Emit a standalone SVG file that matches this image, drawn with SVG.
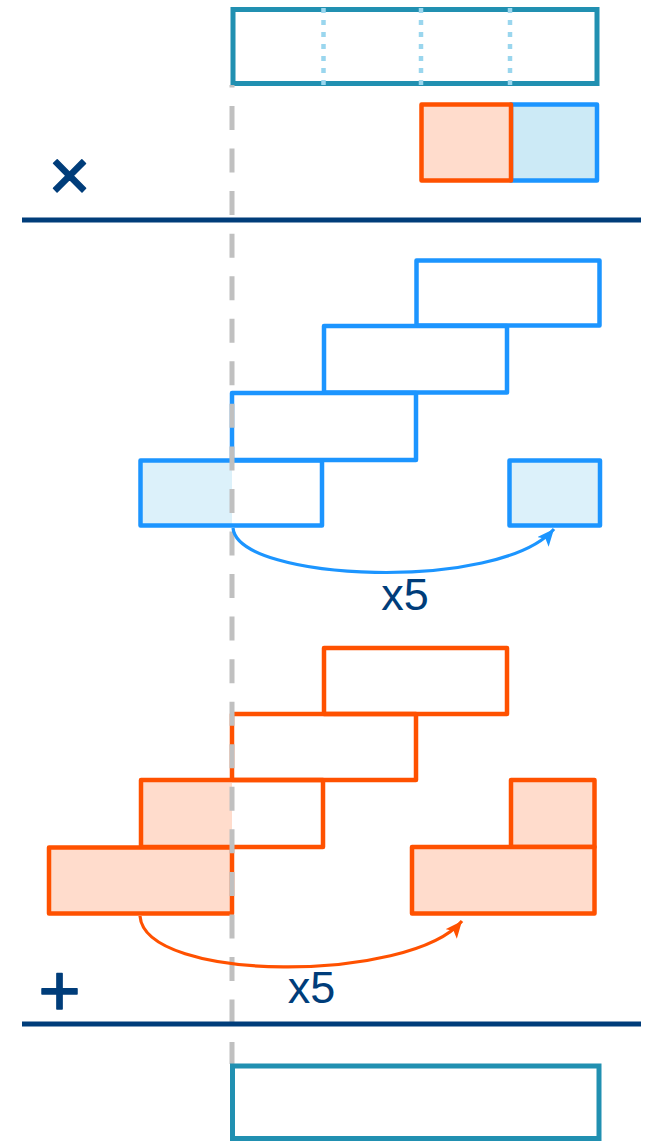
<svg xmlns="http://www.w3.org/2000/svg" width="651" height="1141" viewBox="0 0 651 1141">
<style>
.teal{fill:#ffffff;stroke:#2190B1;stroke-width:5}
.dot{stroke:#9AD6EE;stroke-width:4.5;stroke-dasharray:5 7;fill:none}
.b{fill:none;stroke:#1C95FF;stroke-width:4.5;stroke-linejoin:round}
.bf{fill:#DCF1FA;stroke:none}
.o{fill:none;stroke:#FF5100;stroke-width:4.5;stroke-linejoin:round}
.of{fill:#FFDCCC;stroke:none}
.sep{stroke:#003D7A;stroke-width:5}
.sym{font-family:"Liberation Sans",Arial,sans-serif;fill:#003D7A}
.op{stroke:#003D7A;stroke-width:1.5;stroke-linejoin:round}
.guide{stroke:#C0C0C0;stroke-width:5;stroke-dasharray:24 18.55;stroke-dashoffset:21.55;fill:none}
.arr{fill:none;stroke-width:3.2}
</style>
<defs>
<marker id="ah-b" markerUnits="userSpaceOnUse" markerWidth="19" markerHeight="15" refX="17" refY="7.5" orient="auto">
<path d="M0,0 L17,7.5 L0,15 L4,7.5 Z" fill="#1C95FF"/>
</marker>
<marker id="ah-o" markerUnits="userSpaceOnUse" markerWidth="19" markerHeight="15" refX="17" refY="7.5" orient="auto">
<path d="M0,0 L17,7.5 L0,15 L4,7.5 Z" fill="#FF5100"/>
</marker>
</defs>

<g id="top-vector">
<rect class="teal" x="233" y="9.5" width="364" height="74"/>
<line class="dot" x1="323.5" y1="8" x2="323.5" y2="85"/>
<line class="dot" x1="421" y1="8" x2="421" y2="85"/>
<line class="dot" x1="510" y1="8" x2="510" y2="85"/>
</g>

<g id="multiplier">
<rect x="511" y="104.5" width="86" height="76" fill="#CCEAF6" stroke="#1C95FF" stroke-width="4.5" stroke-linejoin="round"/>
<rect x="421.5" y="104.5" width="89.5" height="76" fill="#FFDCCC" stroke="#FF5100" stroke-width="4.5" stroke-linejoin="round"/>
</g>

<g id="mul-sign">
<text class="sym op" x="69.5" y="200" font-size="72" text-anchor="middle">×</text>
</g>

<g id="separator-1">
<line class="sep" x1="22" y1="220" x2="641" y2="220"/>
</g>

<g id="blue-partials">
<rect class="b" x="416.5" y="260.5" width="183" height="65"/>
<rect class="b" x="324" y="326" width="183" height="66.5"/>
<rect class="b" x="232" y="393" width="184" height="67"/>
<rect class="bf" x="140.5" y="460.5" width="91.5" height="65"/>
<rect class="b" x="140.5" y="460.5" width="181.5" height="65"/>
<rect class="bf" x="509.5" y="460.5" width="90.5" height="65"/>
<rect class="b" x="509.5" y="460.5" width="90.5" height="65"/>
</g>

<g id="orange-partials">
<rect class="o" x="324" y="648" width="183" height="66"/>
<rect class="o" x="232" y="714" width="184" height="66"/>
<rect class="of" x="141" y="780" width="91" height="67"/>
<rect class="o" x="141" y="780" width="182" height="67"/>
<rect class="of" x="49" y="847.5" width="183" height="66"/>
<rect class="o" x="49" y="847.5" width="183" height="66"/>
<rect class="of" x="511" y="780" width="83.5" height="67"/>
<rect class="o" x="511" y="780" width="83.5" height="67"/>
<rect class="of" x="412" y="847" width="182.5" height="66.5"/>
<rect class="o" x="412" y="847" width="182.5" height="66.5"/>
</g>

<g id="guide">
<line class="guide" x1="232" y1="85" x2="232" y2="1064"/>
</g>

<g id="connectors">
<path class="arr" stroke="#1C95FF" d="M233,528 C238,582 500,592 554,529" marker-end="url(#ah-b)"/>
<path class="arr" stroke="#FF5100" d="M140,916 C145,983 410,983 462,921" marker-end="url(#ah-o)"/>
</g>

<g id="label-blue">
<text class="sym" x="405" y="610" font-size="45" text-anchor="middle">x5</text>
</g>
<g id="label-orange">
<text class="sym" x="311.5" y="1003" font-size="45" text-anchor="middle">x5</text>
</g>

<g id="plus-sign">
<text class="sym op" x="59.5" y="1015" font-size="72" text-anchor="middle">+</text>
</g>

<g id="separator-2">
<line class="sep" x1="22" y1="1024" x2="641" y2="1024"/>
</g>

<g id="result-vector">
<rect class="teal" x="232.5" y="1066" width="366.5" height="72.5"/>
</g>
</svg>
